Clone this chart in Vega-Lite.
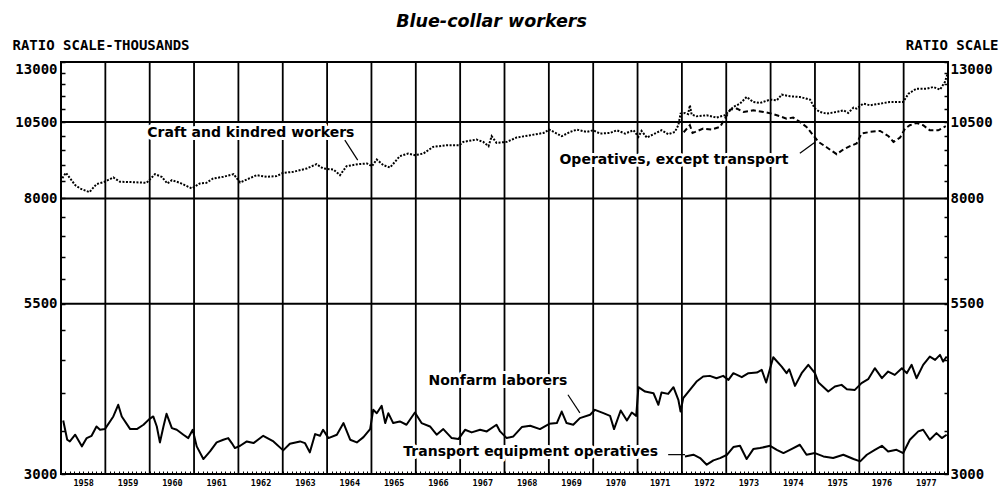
{
  "$schema": "https://vega.github.io/schema/vega-lite/v6.json",
  "width": 887,
  "height": 412,
  "autosize": "none",
  "padding": {"left": 61, "top": 62, "right": 51, "bottom": 19},
  "background": "white",
  "config": {"view": {"stroke": "black", "strokeWidth": 2}},
  "title": {"text": "Blue-collar workers", "font": "DejaVu Sans", "fontSize": 17.5, "fontStyle": "italic", "fontWeight": "bold", "color": "black", "anchor": "middle", "dx": -13, "offset": 8},
  "datasets": {
    "vgrid": [{"year":1959},{"year":1960},{"year":1961},{"year":1962},{"year":1963},{"year":1964},{"year":1965},{"year":1966},{"year":1967},{"year":1968},{"year":1969},{"year":1970},{"year":1971},{"year":1972},{"year":1973},{"year":1974},{"year":1975},{"year":1976},{"year":1977}],
    "hgrid": [{"value":5500},{"value":8000},{"value":10500}],
    "lines": [
      {"series":"craft","year":1958.03,"value":8600},{"series":"craft","year":1958.11,"value":8763},{"series":"craft","year":1958.32,"value":8387},{"series":"craft","year":1958.43,"value":8288},{"series":"craft","year":1958.64,"value":8181},{"series":"craft","year":1958.80,"value":8417},{"series":"craft","year":1958.98,"value":8487},{"series":"craft","year":1959.18,"value":8619},{"series":"craft","year":1959.33,"value":8487},{"series":"craft","year":1959.63,"value":8477},{"series":"craft","year":1959.93,"value":8457},{"series":"craft","year":1960.12,"value":8721},{"series":"craft","year":1960.27,"value":8639},{"series":"craft","year":1960.40,"value":8437},{"series":"craft","year":1960.50,"value":8537},{"series":"craft","year":1960.68,"value":8457},{"series":"craft","year":1960.95,"value":8288},{"series":"craft","year":1961.13,"value":8437},{"series":"craft","year":1961.28,"value":8457},{"series":"craft","year":1961.43,"value":8588},{"series":"craft","year":1961.66,"value":8639},{"series":"craft","year":1961.89,"value":8721},{"series":"craft","year":1962.04,"value":8467},{"series":"craft","year":1962.19,"value":8558},{"series":"craft","year":1962.41,"value":8690},{"series":"craft","year":1962.64,"value":8639},{"series":"craft","year":1962.86,"value":8660},{"series":"craft","year":1963.01,"value":8763},{"series":"craft","year":1963.24,"value":8794},{"series":"craft","year":1963.54,"value":8899},{"series":"craft","year":1963.76,"value":9037},{"series":"craft","year":1963.91,"value":8899},{"series":"craft","year":1964.14,"value":8867},{"series":"craft","year":1964.29,"value":8690},{"series":"craft","year":1964.44,"value":8973},{"series":"craft","year":1964.70,"value":9037},{"series":"craft","year":1964.90,"value":9059},{"series":"craft","year":1965.01,"value":8973},{"series":"craft","year":1965.12,"value":9188},{"series":"craft","year":1965.27,"value":9005},{"series":"craft","year":1965.42,"value":8931},{"series":"craft","year":1965.64,"value":9298},{"series":"craft","year":1965.83,"value":9386},{"series":"craft","year":1965.98,"value":9331},{"series":"craft","year":1966.17,"value":9386},{"series":"craft","year":1966.39,"value":9611},{"series":"craft","year":1966.70,"value":9668},{"series":"craft","year":1966.98,"value":9668},{"series":"craft","year":1967.07,"value":9783},{"series":"craft","year":1967.37,"value":9865},{"series":"craft","year":1967.52,"value":9783},{"series":"craft","year":1967.64,"value":9634},{"series":"craft","year":1967.71,"value":9982},{"series":"craft","year":1967.82,"value":9749},{"series":"craft","year":1968.05,"value":9783},{"series":"craft","year":1968.27,"value":9934},{"series":"craft","year":1968.58,"value":10017},{"series":"craft","year":1968.88,"value":10100},{"series":"craft","year":1969.01,"value":10221},{"series":"craft","year":1969.18,"value":10077},{"series":"craft","year":1969.29,"value":9982},{"series":"craft","year":1969.48,"value":10136},{"series":"craft","year":1969.63,"value":10221},{"series":"craft","year":1969.85,"value":10136},{"series":"craft","year":1970.00,"value":10196},{"series":"craft","year":1970.15,"value":10077},{"series":"craft","year":1970.38,"value":10100},{"series":"craft","year":1970.53,"value":10196},{"series":"craft","year":1970.72,"value":10077},{"series":"craft","year":1970.91,"value":10196},{"series":"craft","year":1971.02,"value":9958},{"series":"craft","year":1971.09,"value":10172},{"series":"craft","year":1971.21,"value":9934},{"series":"craft","year":1971.36,"value":10053},{"series":"craft","year":1971.54,"value":10196},{"series":"craft","year":1971.69,"value":10053},{"series":"craft","year":1971.84,"value":10136},{"series":"craft","year":1971.92,"value":10379},{"series":"craft","year":1971.97,"value":10819},{"series":"craft","year":1972.07,"value":10844},{"series":"craft","year":1972.14,"value":10800},{"series":"craft","year":1972.18,"value":11144},{"series":"craft","year":1972.22,"value":10780},{"series":"craft","year":1972.33,"value":10716},{"series":"craft","year":1972.56,"value":10755},{"series":"craft","year":1972.78,"value":10666},{"series":"craft","year":1972.97,"value":10755},{"series":"craft","year":1973.16,"value":11078},{"series":"craft","year":1973.31,"value":11210},{"series":"craft","year":1973.46,"value":11478},{"series":"craft","year":1973.61,"value":11276},{"series":"craft","year":1973.76,"value":11236},{"series":"craft","year":1973.99,"value":11370},{"series":"craft","year":1974.14,"value":11343},{"series":"craft","year":1974.25,"value":11574},{"series":"craft","year":1974.44,"value":11506},{"series":"craft","year":1974.66,"value":11478},{"series":"craft","year":1974.89,"value":11370},{"series":"craft","year":1975.00,"value":11013},{"series":"craft","year":1975.11,"value":10883},{"series":"craft","year":1975.26,"value":10819},{"series":"craft","year":1975.49,"value":10883},{"series":"craft","year":1975.64,"value":10948},{"series":"craft","year":1975.75,"value":10844},{"series":"craft","year":1975.87,"value":11052},{"series":"craft","year":1975.94,"value":11013},{"series":"craft","year":1976.09,"value":11210},{"series":"craft","year":1976.24,"value":11144},{"series":"craft","year":1976.47,"value":11210},{"series":"craft","year":1976.69,"value":11276},{"series":"craft","year":1976.99,"value":11276},{"series":"craft","year":1977.11,"value":11615},{"series":"craft","year":1977.29,"value":11824},{"series":"craft","year":1977.52,"value":11824},{"series":"craft","year":1977.67,"value":11894},{"series":"craft","year":1977.82,"value":11782},{"series":"craft","year":1977.93,"value":12107},{"series":"craft","year":1977.99,"value":12471},
      {"series":"operatives","year":1972.04,"value":10124},{"series":"operatives","year":1972.18,"value":10379},{"series":"operatives","year":1972.24,"value":10100},{"series":"operatives","year":1972.30,"value":10136},{"series":"operatives","year":1972.48,"value":10257},{"series":"operatives","year":1972.67,"value":10221},{"series":"operatives","year":1972.86,"value":10318},{"series":"operatives","year":1972.97,"value":10628},{"series":"operatives","year":1973.09,"value":10974},{"series":"operatives","year":1973.24,"value":11013},{"series":"operatives","year":1973.39,"value":10883},{"series":"operatives","year":1973.61,"value":10948},{"series":"operatives","year":1973.84,"value":10883},{"series":"operatives","year":1974.02,"value":10819},{"series":"operatives","year":1974.21,"value":10716},{"series":"operatives","year":1974.36,"value":10628},{"series":"operatives","year":1974.51,"value":10666},{"series":"operatives","year":1974.66,"value":10503},{"series":"operatives","year":1974.81,"value":10318},{"series":"operatives","year":1974.96,"value":10017},{"series":"operatives","year":1975.08,"value":9783},{"series":"operatives","year":1975.27,"value":9589},{"series":"operatives","year":1975.49,"value":9364},{"series":"operatives","year":1975.64,"value":9521},{"series":"operatives","year":1975.79,"value":9634},{"series":"operatives","year":1975.94,"value":9726},{"series":"operatives","year":1976.05,"value":10077},{"series":"operatives","year":1976.24,"value":10136},{"series":"operatives","year":1976.47,"value":10172},{"series":"operatives","year":1976.66,"value":9982},{"series":"operatives","year":1976.77,"value":9783},{"series":"operatives","year":1976.92,"value":9934},{"series":"operatives","year":1977.03,"value":10257},{"series":"operatives","year":1977.14,"value":10379},{"series":"operatives","year":1977.29,"value":10465},{"series":"operatives","year":1977.44,"value":10379},{"series":"operatives","year":1977.59,"value":10196},{"series":"operatives","year":1977.78,"value":10196},{"series":"operatives","year":1977.95,"value":10343},
      {"series":"laborers","year":1958.05,"value":3630},{"series":"laborers","year":1958.14,"value":3389},{"series":"laborers","year":1958.20,"value":3369},{"series":"laborers","year":1958.32,"value":3450},{"series":"laborers","year":1958.47,"value":3310},{"series":"laborers","year":1958.58,"value":3409},{"series":"laborers","year":1958.69,"value":3437},{"series":"laborers","year":1958.80,"value":3553},{"series":"laborers","year":1958.88,"value":3511},{"series":"laborers","year":1958.99,"value":3520},{"series":"laborers","year":1959.18,"value":3682},{"series":"laborers","year":1959.29,"value":3838},{"series":"laborers","year":1959.37,"value":3682},{"series":"laborers","year":1959.56,"value":3520},{"series":"laborers","year":1959.71,"value":3520},{"series":"laborers","year":1959.86,"value":3575},{"series":"laborers","year":1959.99,"value":3647},{"series":"laborers","year":1960.08,"value":3682},{"series":"laborers","year":1960.16,"value":3553},{"series":"laborers","year":1960.23,"value":3357},{"series":"laborers","year":1960.31,"value":3553},{"series":"laborers","year":1960.38,"value":3717},{"series":"laborers","year":1960.50,"value":3532},{"series":"laborers","year":1960.61,"value":3511},{"series":"laborers","year":1960.76,"value":3450},{"series":"laborers","year":1960.87,"value":3409},{"series":"laborers","year":1960.97,"value":3511},{"series":"laborers","year":1961.06,"value":3310},{"series":"laborers","year":1961.21,"value":3164},{"series":"laborers","year":1961.36,"value":3251},{"series":"laborers","year":1961.51,"value":3357},{"series":"laborers","year":1961.66,"value":3389},{"series":"laborers","year":1961.77,"value":3409},{"series":"laborers","year":1961.85,"value":3349},{"series":"laborers","year":1961.92,"value":3290},{"series":"laborers","year":1962.04,"value":3317},{"series":"laborers","year":1962.19,"value":3369},{"series":"laborers","year":1962.34,"value":3349},{"series":"laborers","year":1962.56,"value":3437},{"series":"laborers","year":1962.79,"value":3369},{"series":"laborers","year":1963.01,"value":3263},{"series":"laborers","year":1963.16,"value":3341},{"series":"laborers","year":1963.39,"value":3369},{"series":"laborers","year":1963.50,"value":3349},{"series":"laborers","year":1963.61,"value":3240},{"series":"laborers","year":1963.73,"value":3458},{"series":"laborers","year":1963.84,"value":3437},{"series":"laborers","year":1963.91,"value":3511},{"series":"laborers","year":1964.03,"value":3409},{"series":"laborers","year":1964.22,"value":3450},{"series":"laborers","year":1964.37,"value":3596},{"series":"laborers","year":1964.52,"value":3389},{"series":"laborers","year":1964.67,"value":3357},{"series":"laborers","year":1964.82,"value":3421},{"series":"laborers","year":1964.97,"value":3520},{"series":"laborers","year":1965.04,"value":3770},{"series":"laborers","year":1965.12,"value":3725},{"series":"laborers","year":1965.23,"value":3824},{"series":"laborers","year":1965.31,"value":3596},{"series":"laborers","year":1965.38,"value":3725},{"series":"laborers","year":1965.49,"value":3596},{"series":"laborers","year":1965.64,"value":3617},{"series":"laborers","year":1965.79,"value":3575},{"series":"laborers","year":1965.98,"value":3734},{"series":"laborers","year":1966.13,"value":3596},{"series":"laborers","year":1966.32,"value":3553},{"series":"laborers","year":1966.47,"value":3450},{"series":"laborers","year":1966.62,"value":3520},{"series":"laborers","year":1966.81,"value":3409},{"series":"laborers","year":1966.96,"value":3397},{"series":"laborers","year":1967.11,"value":3511},{"series":"laborers","year":1967.26,"value":3479},{"series":"laborers","year":1967.45,"value":3511},{"series":"laborers","year":1967.60,"value":3491},{"series":"laborers","year":1967.82,"value":3575},{"series":"laborers","year":1967.90,"value":3491},{"series":"laborers","year":1968.05,"value":3409},{"series":"laborers","year":1968.20,"value":3429},{"series":"laborers","year":1968.39,"value":3545},{"series":"laborers","year":1968.58,"value":3562},{"series":"laborers","year":1968.80,"value":3520},{"series":"laborers","year":1969.01,"value":3587},{"series":"laborers","year":1969.18,"value":3596},{"series":"laborers","year":1969.29,"value":3747},{"series":"laborers","year":1969.40,"value":3596},{"series":"laborers","year":1969.55,"value":3575},{"series":"laborers","year":1969.70,"value":3660},{"series":"laborers","year":1969.93,"value":3704},{"series":"laborers","year":1970.04,"value":3770},{"series":"laborers","year":1970.23,"value":3725},{"series":"laborers","year":1970.38,"value":3690},{"series":"laborers","year":1970.47,"value":3520},{"series":"laborers","year":1970.62,"value":3761},{"series":"laborers","year":1970.76,"value":3630},{"series":"laborers","year":1970.87,"value":3734},{"series":"laborers","year":1970.97,"value":3690},{"series":"laborers","year":1971.02,"value":4086},{"series":"laborers","year":1971.17,"value":4023},{"series":"laborers","year":1971.36,"value":3999},{"series":"laborers","year":1971.47,"value":3838},{"series":"laborers","year":1971.54,"value":4009},{"series":"laborers","year":1971.69,"value":3990},{"series":"laborers","year":1971.81,"value":4086},{"series":"laborers","year":1971.92,"value":3907},{"series":"laborers","year":1971.97,"value":3747},{"series":"laborers","year":1972.03,"value":3930},{"series":"laborers","year":1972.18,"value":4047},{"series":"laborers","year":1972.33,"value":4169},{"series":"laborers","year":1972.48,"value":4244},{"series":"laborers","year":1972.63,"value":4254},{"series":"laborers","year":1972.78,"value":4219},{"series":"laborers","year":1972.93,"value":4254},{"series":"laborers","year":1973.05,"value":4194},{"series":"laborers","year":1973.16,"value":4295},{"series":"laborers","year":1973.35,"value":4234},{"series":"laborers","year":1973.50,"value":4295},{"series":"laborers","year":1973.69,"value":4305},{"series":"laborers","year":1973.80,"value":4346},{"series":"laborers","year":1973.90,"value":4155},{"series":"laborers","year":1974.06,"value":4546},{"series":"laborers","year":1974.25,"value":4397},{"series":"laborers","year":1974.36,"value":4295},{"series":"laborers","year":1974.42,"value":4356},{"series":"laborers","year":1974.55,"value":4105},{"series":"laborers","year":1974.70,"value":4295},{"series":"laborers","year":1974.85,"value":4424},{"series":"laborers","year":1975.00,"value":4295},{"series":"laborers","year":1975.08,"value":4155},{"series":"laborers","year":1975.30,"value":4023},{"series":"laborers","year":1975.45,"value":4095},{"series":"laborers","year":1975.60,"value":4120},{"series":"laborers","year":1975.72,"value":4057},{"series":"laborers","year":1975.90,"value":4047},{"series":"laborers","year":1976.05,"value":4145},{"series":"laborers","year":1976.20,"value":4204},{"series":"laborers","year":1976.35,"value":4372},{"series":"laborers","year":1976.51,"value":4219},{"series":"laborers","year":1976.65,"value":4320},{"series":"laborers","year":1976.80,"value":4269},{"series":"laborers","year":1976.96,"value":4372},{"series":"laborers","year":1977.07,"value":4295},{"series":"laborers","year":1977.18,"value":4424},{"series":"laborers","year":1977.29,"value":4219},{"series":"laborers","year":1977.44,"value":4424},{"series":"laborers","year":1977.59,"value":4557},{"series":"laborers","year":1977.71,"value":4503},{"series":"laborers","year":1977.82,"value":4584},{"series":"laborers","year":1977.89,"value":4476},{"series":"laborers","year":1977.97,"value":4557},
      {"series":"transport","year":1972.07,"value":3194},{"series":"transport","year":1972.26,"value":3213},{"series":"transport","year":1972.41,"value":3175},{"series":"transport","year":1972.56,"value":3101},{"series":"transport","year":1972.71,"value":3149},{"series":"transport","year":1972.86,"value":3175},{"series":"transport","year":1973.02,"value":3213},{"series":"transport","year":1973.16,"value":3302},{"series":"transport","year":1973.31,"value":3317},{"series":"transport","year":1973.46,"value":3164},{"series":"transport","year":1973.61,"value":3278},{"series":"transport","year":1973.76,"value":3290},{"series":"transport","year":1973.99,"value":3317},{"series":"transport","year":1974.14,"value":3270},{"series":"transport","year":1974.29,"value":3232},{"series":"transport","year":1974.47,"value":3278},{"series":"transport","year":1974.66,"value":3329},{"series":"transport","year":1974.81,"value":3213},{"series":"transport","year":1975.00,"value":3232},{"series":"transport","year":1975.19,"value":3194},{"series":"transport","year":1975.41,"value":3175},{"series":"transport","year":1975.64,"value":3213},{"series":"transport","year":1975.87,"value":3164},{"series":"transport","year":1976.02,"value":3138},{"series":"transport","year":1976.17,"value":3213},{"series":"transport","year":1976.35,"value":3270},{"series":"transport","year":1976.51,"value":3317},{"series":"transport","year":1976.65,"value":3251},{"series":"transport","year":1976.84,"value":3270},{"series":"transport","year":1976.99,"value":3232},{"series":"transport","year":1977.14,"value":3389},{"series":"transport","year":1977.33,"value":3491},{"series":"transport","year":1977.44,"value":3511},{"series":"transport","year":1977.59,"value":3389},{"series":"transport","year":1977.74,"value":3470},{"series":"transport","year":1977.86,"value":3409},{"series":"transport","year":1977.97,"value":3450}
    ],
    "notes": [
      {"label":"Craft and kindred workers","year":1962.28,"value":10087},
      {"label":"Operatives, except transport","year":1971.82,"value":9166},
      {"label":"Nonfarm laborers","year":1967.85,"value":4180},
      {"label":"Transport equipment operatives","year":1968.59,"value":3248}
    ],
    "leaders": [
      {"year":1964.40,"value":9844,"year2":1964.69,"value2":9166},
      {"year":1974.66,"value":9395,"year2":1975.00,"value2":9769},
      {"year":1969.43,"value":3977,"year2":1969.70,"value2":3730},
      {"year":1971.69,"value":3214,"year2":1972.07,"value2":3214}
    ]
  },
  "resolve": {"axis": {"y": "independent"}},
  "layer": [
    {
      "data": {"name": "vgrid"},
      "mark": {"type": "rule", "color": "black", "strokeWidth": 1.8},
      "encoding": {"x": {"field": "year", "type": "quantitative", "scale": {"domain": [1958, 1978], "nice": false, "zero": false},
        "axis": {"orient": "bottom", "tickCount": 240, "labelExpr": "abs(datum.value - floor(datum.value) - 0.5) < 0.01 ? '' + floor(datum.value) : ''", "labelOverlap": false, "labelFlush": false, "labelBound": false, "grid": false, "domain": false, "tickSize": -3, "tickColor": "black", "tickWidth": 1, "labelFont": "DejaVu Sans Mono", "labelFontWeight": "bold", "labelFontSize": 8.5, "labelColor": "black", "labelPadding": 7, "title": null}}}
    },
    {
      "data": {"name": "hgrid"},
      "mark": {"type": "rule", "color": "black", "strokeWidth": 2},
      "encoding": {"y": {"field": "value", "type": "quantitative", "scale": {"type": "log", "domain": [3000, 13000], "nice": false}, "axis": null}}
    },
    {
      "data": {"name": "lines"},
      "transform": [{"filter": "datum.series == 'laborers'"}],
      "mark": {"type": "line", "color": "black", "strokeWidth": 2, "strokeJoin": "round"},
      "encoding": {
        "x": {"field": "year", "type": "quantitative", "scale": {"domain": [1958, 1978], "nice": false, "zero": false},
          "axis": {"orient": "bottom", "tickCount": 240, "labelExpr": "abs(datum.value - floor(datum.value) - 0.5) < 0.01 ? '' + floor(datum.value) : ''", "labelOverlap": false, "labelFlush": false, "labelBound": false, "grid": false, "domain": false, "tickSize": -3, "tickColor": "black", "tickWidth": 1, "labelFont": "DejaVu Sans Mono", "labelFontWeight": "bold", "labelFontSize": 8.5, "labelColor": "black", "labelPadding": 7, "title": null}},
        "y": {"field": "value", "type": "quantitative", "scale": {"type": "log", "domain": [3000, 13000], "nice": false},
          "axis": {"orient": "left", "values": [3000,3500,4000,4500,5000,5500,6000,6500,7000,7500,8000,8500,9000,9500,10000,10500,11000,11500,12000,12500,13000], "labelExpr": "indexof([3000,5500,8000,10500,13000], datum.value) >= 0 ? '' + datum.value : ''", "labelBaseline": {"condition": {"test": "datum.value == 13000", "value": "top"}, "value": "middle"}, "labelOverlap": false, "grid": false, "domain": false, "tickSize": -4, "tickWidth": 1.5, "tickColor": "black", "labelFont": "DejaVu Sans Mono", "labelFontWeight": "bold", "labelFontSize": 14, "labelColor": "black", "labelPadding": 8, "title": "RATIO SCALE-THOUSANDS", "titleAngle": 0, "titleAlign": "left", "titleBaseline": "middle", "titleX": -49, "titleY": -17, "titleFont": "DejaVu Sans Mono", "titleFontWeight": "bold", "titleFontSize": 14, "titleColor": "black"}}
      }
    },
    {
      "data": {"name": "lines"},
      "transform": [{"filter": "datum.series == 'transport'"}],
      "mark": {"type": "line", "color": "black", "strokeWidth": 2, "strokeJoin": "round"},
      "encoding": {
        "x": {"field": "year", "type": "quantitative", "scale": {"domain": [1958, 1978], "nice": false, "zero": false},
          "axis": {"orient": "bottom", "tickCount": 240, "labelExpr": "abs(datum.value - floor(datum.value) - 0.5) < 0.01 ? '' + floor(datum.value) : ''", "labelOverlap": false, "labelFlush": false, "labelBound": false, "grid": false, "domain": false, "tickSize": -3, "tickColor": "black", "tickWidth": 1, "labelFont": "DejaVu Sans Mono", "labelFontWeight": "bold", "labelFontSize": 8.5, "labelColor": "black", "labelPadding": 7, "title": null}},
        "y": {"field": "value", "type": "quantitative", "scale": {"type": "log", "domain": [3000, 13000], "nice": false}, "axis": null}
      }
    },
    {
      "data": {"name": "lines"},
      "transform": [{"filter": "datum.series == 'craft'"}],
      "mark": {"type": "line", "color": "black", "strokeWidth": 2, "strokeDash": [2, 1.5]},
      "encoding": {
        "x": {"field": "year", "type": "quantitative", "scale": {"domain": [1958, 1978], "nice": false, "zero": false},
          "axis": {"orient": "bottom", "tickCount": 240, "labelExpr": "abs(datum.value - floor(datum.value) - 0.5) < 0.01 ? '' + floor(datum.value) : ''", "labelOverlap": false, "labelFlush": false, "labelBound": false, "grid": false, "domain": false, "tickSize": -3, "tickColor": "black", "tickWidth": 1, "labelFont": "DejaVu Sans Mono", "labelFontWeight": "bold", "labelFontSize": 8.5, "labelColor": "black", "labelPadding": 7, "title": null}},
        "y": {"field": "value", "type": "quantitative", "scale": {"type": "log", "domain": [3000, 13000], "nice": false},
          "axis": {"orient": "right", "values": [3000,3500,4000,4500,5000,5500,6000,6500,7000,7500,8000,8500,9000,9500,10000,10500,11000,11500,12000,12500,13000], "labelExpr": "indexof([3000,5500,8000,10500,13000], datum.value) >= 0 ? '' + datum.value : ''", "labelBaseline": {"condition": {"test": "datum.value == 13000", "value": "top"}, "value": "middle"}, "labelOverlap": false, "grid": false, "domain": false, "tickSize": -4, "tickWidth": 1.5, "tickColor": "black", "labelFont": "DejaVu Sans Mono", "labelFontWeight": "bold", "labelFontSize": 14, "labelColor": "black", "labelPadding": 6, "title": "RATIO SCALE", "titleAngle": 0, "titleAlign": "right", "titleBaseline": "middle", "titleX": 50, "titleY": -17, "titleFont": "DejaVu Sans Mono", "titleFontWeight": "bold", "titleFontSize": 14, "titleColor": "black"}}
      }
    },
    {
      "data": {"name": "lines"},
      "transform": [{"filter": "datum.series == 'operatives'"}],
      "mark": {"type": "line", "color": "black", "strokeWidth": 2, "strokeDash": [5, 3]},
      "encoding": {
        "x": {"field": "year", "type": "quantitative", "scale": {"domain": [1958, 1978], "nice": false, "zero": false},
          "axis": {"orient": "bottom", "tickCount": 240, "labelExpr": "abs(datum.value - floor(datum.value) - 0.5) < 0.01 ? '' + floor(datum.value) : ''", "labelOverlap": false, "labelFlush": false, "labelBound": false, "grid": false, "domain": false, "tickSize": -3, "tickColor": "black", "tickWidth": 1, "labelFont": "DejaVu Sans Mono", "labelFontWeight": "bold", "labelFontSize": 8.5, "labelColor": "black", "labelPadding": 7, "title": null}},
        "y": {"field": "value", "type": "quantitative", "scale": {"type": "log", "domain": [3000, 13000], "nice": false}, "axis": null}
      }
    },
    {
      "data": {"name": "leaders"},
      "mark": {"type": "rule", "color": "black", "strokeWidth": 1.2},
      "encoding": {
        "x": {"field": "year", "type": "quantitative", "scale": {"domain": [1958, 1978], "nice": false, "zero": false},
          "axis": {"orient": "bottom", "tickCount": 240, "labelExpr": "abs(datum.value - floor(datum.value) - 0.5) < 0.01 ? '' + floor(datum.value) : ''", "labelOverlap": false, "labelFlush": false, "labelBound": false, "grid": false, "domain": false, "tickSize": -3, "tickColor": "black", "tickWidth": 1, "labelFont": "DejaVu Sans Mono", "labelFontWeight": "bold", "labelFontSize": 8.5, "labelColor": "black", "labelPadding": 7, "title": null}},
        "y": {"field": "value", "type": "quantitative", "scale": {"type": "log", "domain": [3000, 13000], "nice": false}, "axis": null},
        "x2": {"field": "year2"},
        "y2": {"field": "value2"}
      }
    },
    {
      "data": {"name": "notes"},
      "mark": {"type": "text", "font": "DejaVu Sans", "fontWeight": "bold", "fontSize": 14, "color": "white", "stroke": "white", "strokeWidth": 6, "strokeJoin": "round", "align": "center", "baseline": "middle"},
      "encoding": {
        "x": {"field": "year", "type": "quantitative", "scale": {"domain": [1958, 1978], "nice": false, "zero": false},
          "axis": {"orient": "bottom", "tickCount": 240, "labelExpr": "abs(datum.value - floor(datum.value) - 0.5) < 0.01 ? '' + floor(datum.value) : ''", "labelOverlap": false, "labelFlush": false, "labelBound": false, "grid": false, "domain": false, "tickSize": -3, "tickColor": "black", "tickWidth": 1, "labelFont": "DejaVu Sans Mono", "labelFontWeight": "bold", "labelFontSize": 8.5, "labelColor": "black", "labelPadding": 7, "title": null}},
        "y": {"field": "value", "type": "quantitative", "scale": {"type": "log", "domain": [3000, 13000], "nice": false}, "axis": null},
        "text": {"field": "label"}
      }
    },
    {
      "data": {"name": "notes"},
      "mark": {"type": "text", "font": "DejaVu Sans", "fontWeight": "bold", "fontSize": 14, "color": "black", "align": "center", "baseline": "middle"},
      "encoding": {
        "x": {"field": "year", "type": "quantitative", "scale": {"domain": [1958, 1978], "nice": false, "zero": false},
          "axis": {"orient": "bottom", "tickCount": 240, "labelExpr": "abs(datum.value - floor(datum.value) - 0.5) < 0.01 ? '' + floor(datum.value) : ''", "labelOverlap": false, "labelFlush": false, "labelBound": false, "grid": false, "domain": false, "tickSize": -3, "tickColor": "black", "tickWidth": 1, "labelFont": "DejaVu Sans Mono", "labelFontWeight": "bold", "labelFontSize": 8.5, "labelColor": "black", "labelPadding": 7, "title": null}},
        "y": {"field": "value", "type": "quantitative", "scale": {"type": "log", "domain": [3000, 13000], "nice": false}, "axis": null},
        "text": {"field": "label"}
      }
    }
  ]
}
